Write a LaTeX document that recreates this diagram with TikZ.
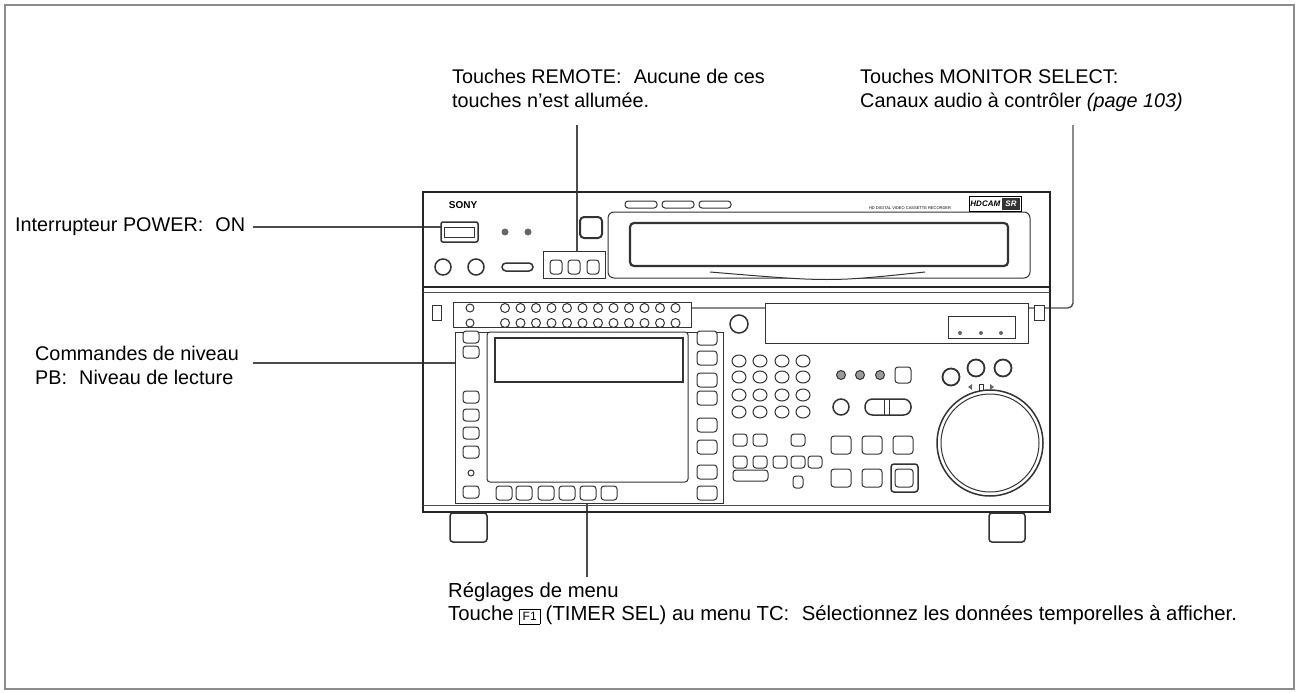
\documentclass[tikz,border=0pt]{standalone}
\usepackage{fontspec}
\setmainfont{Liberation Sans}
\usetikzlibrary{positioning,calc}
\tikzset{
  Label/.style = {anchor=west, align=left, inner sep=0pt, font=\fontsize{19.8}{23.5}\selectfont},
  Leader/.style = {draw=black!70, line width=1.4pt},
  Part/.style = {draw=black!80, line width=1pt, fill=white},
  Key/.style = {Part, rounded corners=3pt},
  Knob/.style = {Part},
}
\newcommand{\keybox}[4]{\draw[Key] ($(#1,#2)-(#3,#4)$) rectangle ($(#1,#2)+(#3,#4)$);}
\begin{document}
\begin{tikzpicture}[x=1pt,y=-1pt]
        \useasboundingbox (0,0) rectangle (1298,693);
        \draw[black!45, line width=1.2pt] (5,5) rectangle (1294,689);

        %%%%% Callout texts %%%%%

        \node[Label, anchor=north west] (remote) at (452,69) {Touches REMOTE:\,\, Aucune de ces\\touches n'est allumée.};
        \node[Label, anchor=north west] (monitor) at (860,69) {Touches MONITOR SELECT:\\Canaux audio à contrôler \textit{(page 103)}};
        \node[Label] (power) at (15,227) {Interrupteur POWER:\,\, ON};
        \node[Label, anchor=north west] (level) at (35,346) {Commandes de niveau\\PB:\,\, Niveau de lecture};
        \node[Label, anchor=north west, font=\fontsize{20.3}{23.5}\selectfont] (menu) at (448,582) {Réglages de menu\\Touche \fbox{\fontsize{12}{12}\selectfont F1} (TIMER SEL) au menu TC:\,\, Sélectionnez les données temporelles à afficher.};

        %%%%% Leader lines %%%%%

        \coordinate (remoteEnd) at (577,251);
        \coordinate (monitorEnd) at (691,308);
        \coordinate (powerEnd) at (441,227);
        \coordinate (levelEnd) at (495,363);
        \coordinate (menuEnd) at (587,503);

        \draw[Leader] (577,125) -- (remoteEnd);
        \draw[Leader, rounded corners=5pt] (1073,125) |- (monitorEnd);
        \draw[Leader] (253,227) -- (powerEnd);
        \draw[Leader] (253,363) -- (levelEnd);
        \draw[Leader] (menuEnd) -- (587,577);

        %%%%% Unit body %%%%%

        \draw[black!85, line width=2.2pt] (423,192) rectangle (1050,512);
        \draw[black!85, line width=1.8pt] (423,287) -- (1050,287);
        \draw[black!70] (423,292) -- (1050,292);
        \draw[black!70] (423,505) -- (1050,505);
        \draw[Key, line width=1.5pt] (450,513) rectangle (487,542);
        \draw[Key, line width=1.5pt] (989,513) rectangle (1025,542);

        %%%%% Top section %%%%%

        \node[font=\bfseries\fontsize{10}{10}\selectfont, inner sep=0pt] (sony) at (463,205) {SONY};
        \draw[Part, line width=1.5pt, rounded corners=2pt] (441,222) rectangle (478,242);
        \draw[Part] (444,227) rectangle (474,237);
        \fill[black!60] (505,232) circle (3.5) (528,232) circle (3.5);
        \draw[Key, line width=2pt, rounded corners=4pt] (580,217) rectangle (602,238);
        \draw[Knob, line width=1.5pt] (443,267) circle (8) (476,267) circle (8);
        \draw[Key, rounded corners=4pt, line width=1.5pt] (502,263) rectangle (533,271);
        \draw[Part] (543,251) rectangle (605,278);
        \foreach \x in {556,574,593} {\keybox{\x}{267}{6}{7}}
        \foreach \x in {625,662,699} {\draw[Key] (\x,201) rectangle ++(32,7);}
        \draw[Part, rounded corners=6pt] (608,212) rectangle (1030,278);
        \draw[Part, line width=2.2pt, rounded corners=4pt] (630,223) rectangle (1008,266);
        \draw[Part] (710,272) .. controls (830,282) .. (925,272);
        \node[font=\fontsize{4}{4}\selectfont, inner sep=0pt] (model) at (910,208) {HD DIGITAL VIDEO CASSETTE RECORDER};
        \node[draw, fill=white, font=\itshape\bfseries\fontsize{8}{8}\selectfont, inner sep=1.5pt] (hdcam) at (995,204) {HDCAM \textcolor{white}{\colorbox{black!80}{SR}}};

        %%%%% Lower section %%%%%

        \draw[Part] (432,305) rectangle (441,320);
        \draw[Part] (1034,305) rectangle (1044,320);
        \draw[Part] (453,302) rectangle (691,327);
        \draw[Knob] (470,308) circle (4) (470,323) circle (4);
        \foreach \i in {0,...,11} {
          \draw[Knob] (505+\i*15.5,308) circle (4.5);
          \draw[Knob] (505+\i*15.5,323) circle (4.5);
        }
        \draw[Knob, line width=1.5pt] (739,324) circle (9);
        \draw[Part] (765,303) rectangle (1028,343);
        \draw[Part] (948,316) rectangle (1015,338);
        \fill[black!60] (960,333) circle (2) (981,333) circle (2) (1001,333) circle (2);

        %%%%% Screen area %%%%%

        \draw[Part] (455,332) rectangle (723,503);
        \draw[Part, rounded corners=3pt] (487,332) rectangle (688,482);
        \draw[Part, line width=1.5pt] (495,338) rectangle (683,382);
        \foreach \y in {337,352,397,415,433,452,492} {\keybox{471}{\y}{8}{6}}
        \draw[Knob] (471,473) circle (3);
        \foreach \y in {338,358,380,398,425,447,472,493} {\keybox{707}{\y}{10}{7}}
        \foreach \x in {504,524,546,567,588,609} {\keybox{\x}{493}{8}{7}}

        %%%%% Keys %%%%%

        \foreach \x in {739,760,782,803}
          \foreach \y in {361,377,395,412}
            {\draw[Knob] (\x,\y) ellipse (7 and 6);}
        \draw[Knob, fill=black!40] (841,375) circle (4.5) (860,375) circle (4.5) (880,375) circle (4.5);
        \keybox{903}{375}{8}{8}
        \draw[Knob, line width=1.5pt] (841,407) circle (8);
        \draw[Key, rounded corners=7.5pt, line width=1.5pt] (865,399) rectangle (911,415);
        \draw[Part] (884,399) -- (884,415) (889,399) -- (889,415);
        \foreach \x in {740,760,798} {\keybox{\x}{440}{7}{6}}
        \foreach \x in {740,760,780,798,815} {\keybox{\x}{462}{7}{6}}
        \draw[Key] (733,470) rectangle (768,481);
        \keybox{798}{482}{5}{6}
        \foreach \x in {841,872} {\keybox{\x}{445}{10}{9} \keybox{\x}{478}{10}{9}}
        \keybox{903}{445}{10}{9}
        \draw[Key, line width=1.5pt] (891,464) rectangle (918,492);
        \keybox{904}{478}{9}{9}
        \draw[Knob, line width=1.8pt] (951,377) circle (8.5) (976,368) circle (8.5) (1003,368) circle (8.5);
        \fill[black!60] (968,387) -- (972,384) -- (972,390) -- cycle (990,384) -- (994,387) -- (990,390) -- cycle;
        \draw[Part] (979,384) rectangle (983,390);
        \draw[Knob, line width=1.5pt] (990,443) circle (53);
        \draw[Knob] (990,443) circle (49);
\end{tikzpicture}
\end{document}
